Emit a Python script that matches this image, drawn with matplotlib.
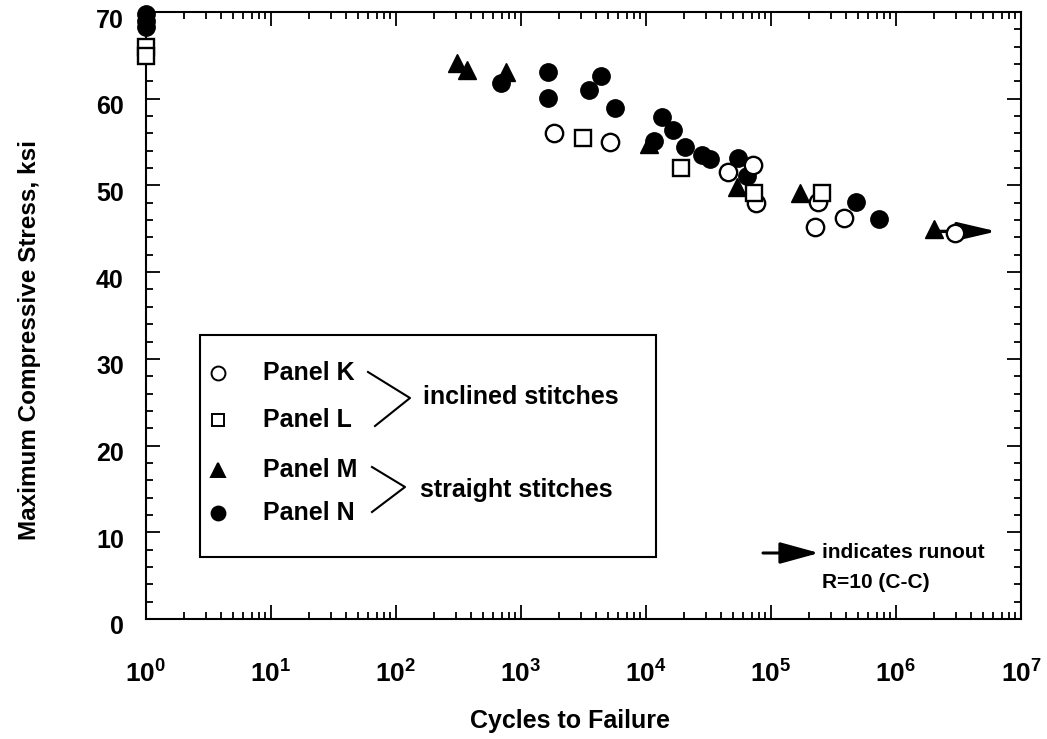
import matplotlib
matplotlib.use('Agg')
import matplotlib.pyplot as plt
import matplotlib.transforms as mtransforms
from matplotlib.ticker import LogLocator, MultipleLocator, FixedLocator, FixedFormatter, NullFormatter
import numpy as np

plt.rcParams['font.family'] = 'Liberation Sans'
plt.rcParams['font.weight'] = 'bold'
plt.rcParams['mathtext.fontset'] = 'custom'
plt.rcParams['mathtext.rm'] = 'Liberation Sans:bold'
plt.rcParams['mathtext.bf'] = 'Liberation Sans:bold'

# ---- data (cycles, ksi) ----
k_cycles = [1830, 5130, 45300, 72000, 76000, 224000, 238000, 383000, 2.97e6]
k_stress = [56.0, 55.0, 51.6, 52.3, 48.0, 45.2, 48.1, 46.3, 44.5]

l_cycles = [1, 1, 3150, 19000, 73000, 256000]
l_stress = [66.0, 64.9, 55.5, 52.0, 49.1, 49.1]

m_cycles = [309, 370, 760, 10500, 53700, 170000, 2.0e6]
m_stress = [64.1, 63.3, 63.1, 54.8, 49.8, 49.1, 45.0]

n_cycles = [1, 1, 1, 692, 1650, 1650, 3470, 4370, 5620, 11600, 13400, 16500,
            20700, 28000, 32500, 54600, 64000, 479000, 730000]
n_stress = [69.8, 69.0, 68.3, 61.8, 63.1, 60.1, 61.0, 62.6, 58.9, 55.1, 57.9, 56.4,
            54.4, 53.5, 53.0, 53.2, 51.1, 48.1, 46.1]

# runout arrow (start, end cycles; stress)
runout_x = [2.0e6, 6.4e6]
runout_y = 44.7

xtick_vals = [1e0, 1e1, 1e2, 1e3, 1e4, 1e5, 1e6, 1e7]
xtick_labels = [r'$\mathrm{10^{%d}}$' % i for i in range(8)]

W, H = 1047, 739
fig = plt.figure(figsize=(W / 100, H / 100), dpi=100)
ax = fig.add_axes([146 / W, 1 - 619 / H, (1021 - 146) / W, (619 - 12) / H])

ms = 12.5
ax.annotate('', xy=(runout_x[1], runout_y), xytext=(runout_x[0], runout_y),
            arrowprops=dict(arrowstyle='-|>,head_length=1.2,head_width=0.28', lw=2.4,
                            color='black', shrinkA=0, shrinkB=0, mutation_scale=20), zorder=2)
ax.plot(n_cycles, n_stress, 'o', ms=ms, mfc='black', mec='black', ls='none', clip_on=False, zorder=3)
ax.plot(m_cycles, m_stress, '^', ms=ms, mfc='black', mec='black', ls='none', clip_on=False, zorder=3)
ax.plot(k_cycles, k_stress, 'o', ms=ms, mfc='white', mec='black', mew=1.7, ls='none', clip_on=False, zorder=4)
ax.plot(l_cycles, l_stress, 's', ms=ms - 1.5, mfc='white', mec='black', mew=1.7, ls='none', clip_on=False, zorder=4)

ax.set_xscale('log')
ax.set_xlim(1, 1e7)
ax.set_ylim(0, 70)

ax.xaxis.set_major_locator(FixedLocator(xtick_vals))
ax.xaxis.set_major_formatter(FixedFormatter(xtick_labels))
ax.xaxis.set_minor_locator(LogLocator(base=10, subs=np.arange(2, 10), numticks=20))
ax.xaxis.set_minor_formatter(NullFormatter())
ax.yaxis.set_major_locator(MultipleLocator(10))
ax.yaxis.set_minor_locator(MultipleLocator(2))

ax.tick_params(which='both', direction='in', top=True, right=True, width=1.3)
ax.tick_params(which='major', length=10)
ax.tick_params(which='minor', length=5)
ax.tick_params(axis='x', which='major', labelsize=19, pad=30)
ax.tick_params(axis='y', which='major', labelsize=18, pad=16)
for sp in ax.spines.values():
    sp.set_linewidth(1.5)

# y tick labels sit a little below their ticks in the original
off = mtransforms.ScaledTranslation(0, -6 / 100, fig.dpi_scale_trans)
for lab in ax.get_yticklabels():
    lab.set_transform(lab.get_transform() + off)

ax.set_xlabel('Cycles to Failure', fontsize=18, fontweight='bold')
ax.xaxis.set_label_coords(0.485, -0.148)
ax.set_ylabel('Maximum Compressive Stress, ksi', fontsize=17.5, fontweight='bold')
ax.yaxis.set_label_coords(-0.12, 0.46)


# ---- hand-made legend, placed in figure pixels ----
def fx(px):
    return px / W


def fy(py):
    return 1 - py / H


tf = fig.transFigure
fig.patches.append(plt.Rectangle((fx(200), fy(557)), fx(656) - fx(200), fy(335) - fy(557),
                                 transform=tf, fill=False, lw=1.5, ec='black'))
leg_rows = [('Panel K', 'o', 'white', 373), ('Panel L', 's', 'white', 420),
            ('Panel M', '^', 'black', 470), ('Panel N', 'o', 'black', 513)]
for name, mk, fc, py in leg_rows:
    fig.lines.append(plt.Line2D([fx(218)], [fy(py)], marker=mk, ms=10 if mk != 's' else 9,
                                mfc=fc, mec='black', mew=1.4, ls='none', transform=tf))
    fig.text(fx(263), fy(py), name, fontsize=18, fontweight='bold', va='center', ha='left')

fig.lines.append(plt.Line2D([fx(368), fx(410), fx(375)], [fy(372), fy(398), fy(426)],
                            color='black', lw=1.5, transform=tf))
fig.lines.append(plt.Line2D([fx(372), fx(405), fx(372)], [fy(467), fy(487), fy(512)],
                            color='black', lw=1.5, transform=tf))
fig.text(fx(423), fy(397), 'inclined stitches', fontsize=18, fontweight='bold', va='center', ha='left')
fig.text(fx(420), fy(490), 'straight stitches', fontsize=18, fontweight='bold', va='center', ha='left')

# runout note
fig.patches.append(matplotlib.patches.FancyArrowPatch((fx(763), fy(553)), (fx(819), fy(553)),
                                                      transform=tf, arrowstyle='-|>,head_length=1.2,head_width=0.33',
                                                      lw=2.2, color='black', shrinkA=0, shrinkB=0,
                                                      mutation_scale=20))
fig.text(fx(822), fy(553), 'indicates runout', fontsize=15, fontweight='bold', va='center', ha='left')
fig.text(fx(822), fy(583), 'R=10 (C-C)', fontsize=15, fontweight='bold', va='center', ha='left')

fig.savefig('out.png', dpi=100)
